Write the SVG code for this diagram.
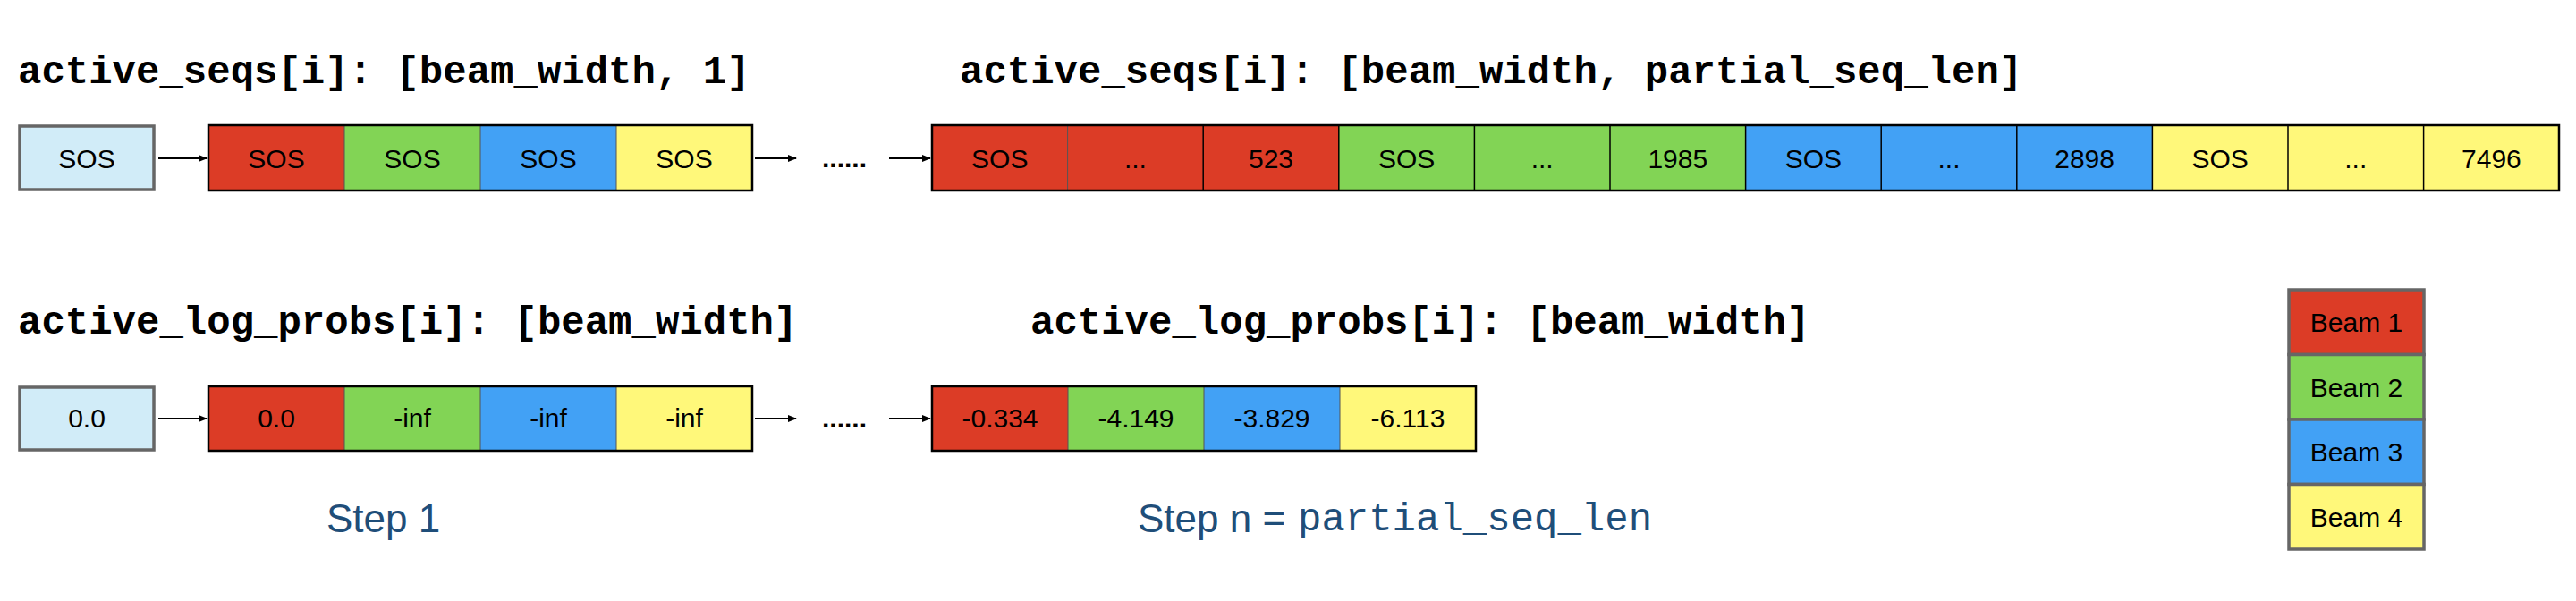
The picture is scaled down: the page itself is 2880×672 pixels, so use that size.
<svg xmlns="http://www.w3.org/2000/svg" width="2880" height="672" viewBox="0 0 2880 672">
<style>
.bg{fill:#ffffff}
.mono{font-family:"Liberation Mono","Courier New",monospace;font-size:44px;font-weight:bold;fill:#000}
.lbl{font-family:"Liberation Sans",Arial,sans-serif;font-size:30px;fill:#000;text-anchor:middle}
.dots{font-family:"Liberation Sans",Arial,sans-serif;font-size:30px;font-weight:bold;fill:#000}
.step{font-family:"Liberation Sans",Arial,sans-serif;font-size:44px;fill:#1F4E79}
.stepmono{font-family:"Liberation Mono","Courier New",monospace;font-size:44px;fill:#1F4E79}
.init{fill:#D1ECF8;stroke:#666;stroke-width:3.5}
.r{fill:#DC3C26}
.g{fill:#82D455}
.b{fill:#42A1F5}
.y{fill:#FFF87A}
.frame{fill:none;stroke:#000;stroke-width:2.5}
.div{stroke:#000;stroke-width:1.5}
.divs{stroke:#555;stroke-width:1}
.leg{stroke:#666;stroke-width:3.5}
.conn{stroke:#000;stroke-width:2;fill:none;marker-end:url(#ah)}
</style>
<defs>
<marker id="ah" markerWidth="10" markerHeight="10" refX="9" refY="5" orient="auto" markerUnits="userSpaceOnUse">
<path d="M0,1 L10,5 L0,9 Z" fill="#000"/>
</marker>
</defs>
<rect class="bg" x="0" y="0" width="2880" height="672"/>

<g id="titles">
<text class="mono" x="20" y="93">active_seqs[i]: [beam_width, 1]</text>
<text class="mono" x="1073" y="93">active_seqs[i]: [beam_width, partial_seq_len]</text>
<text class="mono" x="20" y="373">active_log_probs[i]: [beam_width]</text>
<text class="mono" x="1152" y="373">active_log_probs[i]: [beam_width]</text>
</g>

<g id="seq-init">
<rect class="init" x="22" y="141" width="150" height="71"/>
<text class="lbl" x="97" y="188">SOS</text>
</g>

<g id="seq-step1">
<rect class="r" x="233" y="140" width="152" height="73"/>
<rect class="g" x="385" y="140" width="152" height="73"/>
<rect class="b" x="537" y="140" width="152" height="73"/>
<rect class="y" x="689" y="140" width="152" height="73"/>
<line class="divs" x1="385" y1="140" x2="385" y2="213"/>
<line class="divs" x1="537" y1="140" x2="537" y2="213"/>
<line class="divs" x1="689" y1="140" x2="689" y2="213"/>
<rect class="frame" x="233" y="140" width="608" height="73"/>
<text class="lbl" x="309" y="188">SOS</text>
<text class="lbl" x="461" y="188">SOS</text>
<text class="lbl" x="613" y="188">SOS</text>
<text class="lbl" x="765" y="188">SOS</text>
</g>

<g id="seq-dots"><text class="dots" x="919" y="187">......</text></g>

<g id="seq-stepn">
<rect class="r" x="1042" y="140" width="455" height="73"/>
<rect class="g" x="1497" y="140" width="455" height="73"/>
<rect class="b" x="1952" y="140" width="455" height="73"/>
<rect class="y" x="2407" y="140" width="454" height="73"/>
<line class="divs" x1="1193.6" y1="140" x2="1193.6" y2="213"/>
<line class="div" x1="1345.2" y1="140" x2="1345.2" y2="213"/>
<line class="div" x1="1496.8" y1="140" x2="1496.8" y2="213"/>
<line class="div" x1="1648.4" y1="140" x2="1648.4" y2="213"/>
<line class="div" x1="1800" y1="140" x2="1800" y2="213"/>
<line class="div" x1="1951.6" y1="140" x2="1951.6" y2="213"/>
<line class="div" x1="2103.2" y1="140" x2="2103.2" y2="213"/>
<line class="div" x1="2254.8" y1="140" x2="2254.8" y2="213"/>
<line class="div" x1="2406.4" y1="140" x2="2406.4" y2="213"/>
<line class="div" x1="2558" y1="140" x2="2558" y2="213"/>
<line class="div" x1="2709.6" y1="140" x2="2709.6" y2="213"/>
<rect class="frame" x="1042" y="140" width="1819" height="73"/>
<text class="lbl" x="1117.8" y="188">SOS</text>
<text class="lbl" x="1269.4" y="188">...</text>
<text class="lbl" x="1421" y="188">523</text>
<text class="lbl" x="1572.6" y="188">SOS</text>
<text class="lbl" x="1724.2" y="188">...</text>
<text class="lbl" x="1875.8" y="188">1985</text>
<text class="lbl" x="2027.4" y="188">SOS</text>
<text class="lbl" x="2179" y="188">...</text>
<text class="lbl" x="2330.6" y="188">2898</text>
<text class="lbl" x="2482.2" y="188">SOS</text>
<text class="lbl" x="2633.8" y="188">...</text>
<text class="lbl" x="2785.4" y="188">7496</text>
</g>

<g id="lp-init">
<rect class="init" x="22" y="433" width="150" height="70"/>
<text class="lbl" x="97" y="478">0.0</text>
</g>

<g id="lp-step1">
<rect class="r" x="233" y="432" width="152" height="72"/>
<rect class="g" x="385" y="432" width="152" height="72"/>
<rect class="b" x="537" y="432" width="152" height="72"/>
<rect class="y" x="689" y="432" width="152" height="72"/>
<line class="divs" x1="385" y1="432" x2="385" y2="504"/>
<line class="divs" x1="537" y1="432" x2="537" y2="504"/>
<line class="divs" x1="689" y1="432" x2="689" y2="504"/>
<rect class="frame" x="233" y="432" width="608" height="72"/>
<text class="lbl" x="309" y="478">0.0</text>
<text class="lbl" x="461" y="478">-inf</text>
<text class="lbl" x="613" y="478">-inf</text>
<text class="lbl" x="765" y="478">-inf</text>
</g>

<g id="lp-dots"><text class="dots" x="919" y="478">......</text></g>

<g id="lp-stepn">
<rect class="r" x="1042" y="432" width="152" height="72"/>
<rect class="g" x="1194" y="432" width="152" height="72"/>
<rect class="b" x="1346" y="432" width="152" height="72"/>
<rect class="y" x="1498" y="432" width="152" height="72"/>
<line class="divs" x1="1194" y1="432" x2="1194" y2="504"/>
<line class="divs" x1="1346" y1="432" x2="1346" y2="504"/>
<line class="divs" x1="1498" y1="432" x2="1498" y2="504"/>
<rect class="frame" x="1042" y="432" width="608" height="72"/>
<text class="lbl" x="1118" y="478">-0.334</text>
<text class="lbl" x="1270" y="478">-4.149</text>
<text class="lbl" x="1422" y="478">-3.829</text>
<text class="lbl" x="1574" y="478">-6.113</text>
</g>

<g id="legend">
<rect class="r leg" x="2559" y="324" width="151" height="72.5"/>
<rect class="g leg" x="2559" y="396.5" width="151" height="72.5"/>
<rect class="b leg" x="2559" y="469" width="151" height="72.5"/>
<rect class="y leg" x="2559" y="541.5" width="151" height="72.5"/>
<text class="lbl" x="2634.5" y="371">Beam 1</text>
<text class="lbl" x="2634.5" y="443.5">Beam 2</text>
<text class="lbl" x="2634.5" y="516">Beam 3</text>
<text class="lbl" x="2634.5" y="588.5">Beam 4</text>
</g>

<g id="step-labels">
<text class="step" x="365" y="595">Step 1</text>
<text class="step" x="1272" y="595">Step n = <tspan class="stepmono" x="1451" y="593">partial_seq_len</tspan></text>
</g>

<g id="connectors">
<line class="conn" x1="177" y1="177" x2="231" y2="177"/>
<line class="conn" x1="844" y1="177" x2="890" y2="177"/>
<line class="conn" x1="994" y1="177" x2="1040" y2="177"/>
<line class="conn" x1="177" y1="468" x2="231" y2="468"/>
<line class="conn" x1="844" y1="468" x2="890" y2="468"/>
<line class="conn" x1="994" y1="468" x2="1040" y2="468"/>
</g>
</svg>
